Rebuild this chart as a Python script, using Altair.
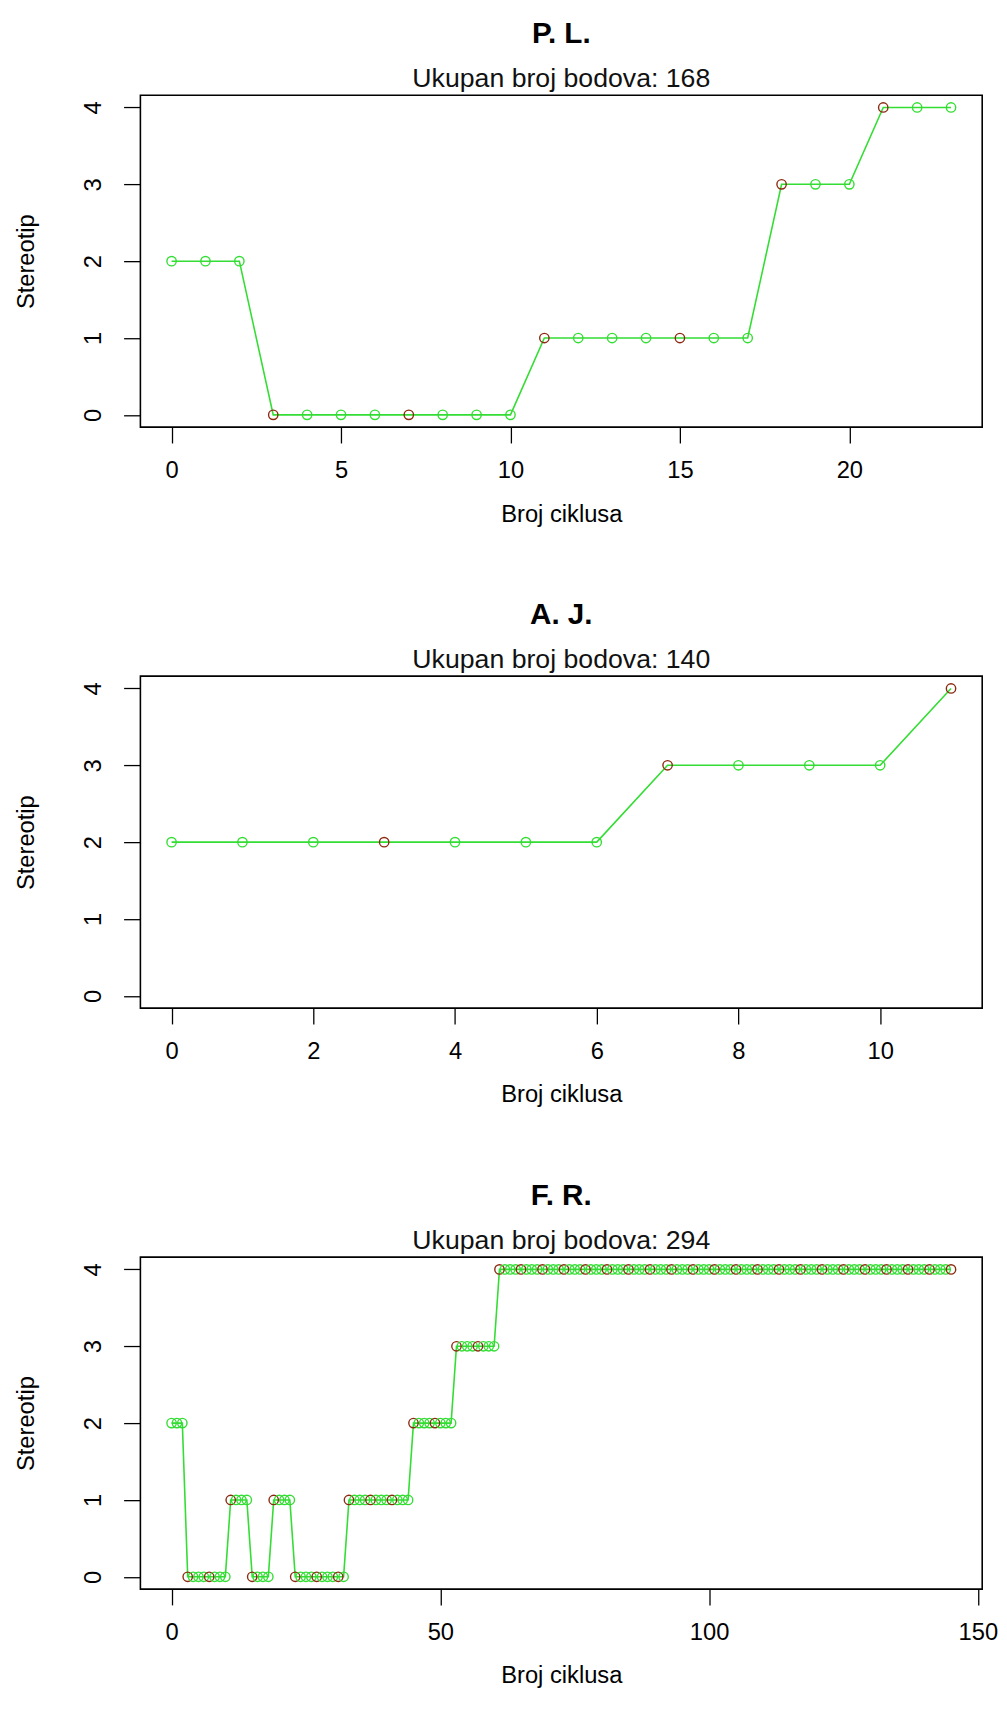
import altair as alt
import pandas as pd

# ---------------- data ----------------
panel_names = ["P. L.", "A. J.", "F. R."]
panel_scores = [168, 140, 294]

pl_values = [2, 2, 2, 0, 0, 0, 0, 0, 0, 0, 0, 1, 1, 1, 1, 1, 1, 1, 3, 3, 3, 4, 4, 4]
pl_red = [3, 7, 11, 15, 18, 21]

aj_values = [2, 2, 2, 2, 2, 2, 2, 3, 3, 3, 3, 4]
aj_red = [3, 7, 11]

fr_values = [
    2, 2, 2, 0, 0, 0, 0, 0, 0, 0, 0, 1, 1, 1, 1, 0, 0, 0, 0, 1,
    1, 1, 1, 0, 0, 0, 0, 0, 0, 0, 0, 0, 0, 1, 1, 1, 1, 1, 1, 1,
    1, 1, 1, 1, 1, 2, 2, 2, 2, 2, 2, 2, 2, 3, 3, 3, 3, 3, 3, 3,
    3, 4, 4, 4, 4, 4, 4, 4, 4, 4, 4, 4, 4, 4, 4, 4, 4, 4, 4, 4,
    4, 4, 4, 4, 4, 4, 4, 4, 4, 4, 4, 4, 4, 4, 4, 4, 4, 4, 4, 4,
    4, 4, 4, 4, 4, 4, 4, 4, 4, 4, 4, 4, 4, 4, 4, 4, 4, 4, 4, 4,
    4, 4, 4, 4, 4, 4, 4, 4, 4, 4, 4, 4, 4, 4, 4, 4, 4, 4, 4, 4,
    4, 4, 4, 4, 4, 4,
]
fr_red = [3, 7, 11, 15, 19, 23, 27, 31, 33, 37, 41, 45, 49, 53, 57, 61, 65, 69,
          73, 77, 81, 85, 89, 93, 97, 101, 105, 109, 113, 117, 121, 125, 129,
          133, 137, 141, 145]

x_tick_values = [[0, 5, 10, 15, 20], [0, 2, 4, 6, 8, 10], [0, 50, 100, 150]]
y_tick_values = [0, 1, 2, 3, 4]

GREEN = "#33dd33"
RED = "#8b2a10"
FONT = "Liberation Sans"

W, H = 852, 336


def panel(name, score, values, red, xticks):
    n = len(values) - 1
    df = pd.DataFrame({"cycle": list(range(len(values))), "stereotip": values})
    df["red"] = df["cycle"].isin(red)
    pad = 0.04 * n
    x = alt.X(
        "cycle:Q",
        scale=alt.Scale(domain=[-pad, n + pad], nice=False, zero=False),
        axis=alt.Axis(
            values=xticks, title="Broj ciklusa", grid=False, domain=False,
            tickSize=16, tickColor="black", tickWidth=1.3,
            labelFont=FONT, labelFontSize=24, labelColor="black", labelPadding=16,
            labelFlush=False, format="d",
            titleFont=FONT, titleFontSize=24, titleFontWeight="normal", titleColor="black",
            titleY=95, titleBaseline="alphabetic",
        ),
    )
    y = alt.Y(
        "stereotip:Q",
        scale=alt.Scale(domain=[-0.16, 4.16], nice=False, zero=False),
        axis=alt.Axis(
            values=y_tick_values, title="Stereotip", grid=False, domain=False,
            tickSize=17, tickColor="black", tickWidth=1.3,
            labelFont=FONT, labelFontSize=24, labelColor="black", labelPadding=18,
            labelAngle=270, labelAlign="center", labelBaseline="bottom", labelFlush=False,
            titleFont=FONT, titleFontSize=24, titleFontWeight="normal", titleColor="black",
            titleX=-115, titleY=H / 2, titleAngle=270, titleAlign="center",
            titleBaseline="middle",
        ),
    )
    base = alt.Chart(df)
    line = base.mark_line(color=GREEN, strokeWidth=1.6).encode(x=x, y=y)
    pts = base.mark_point(shape="circle", filled=False, size=90, strokeWidth=1.4, opacity=1).encode(
        x=x, y=y,
        color=alt.condition("datum.red", alt.value(RED), alt.value(GREEN)),
    )
    return alt.layer(line, pts).properties(
        width=W, height=H,
        title=alt.TitleParams(
            text=name, subtitle=f"Ukupan broj bodova: {score}",
            anchor="middle", frame="group", offset=3,
            font=FONT, fontSize=30, fontWeight="bold", color="black",
            subtitleFont=FONT, subtitleFontSize=27, subtitleColor="#111111",
            subtitlePadding=18,
        ),
    )


panels = [
    panel(panel_names[0], panel_scores[0], pl_values, pl_red, x_tick_values[0]),
    panel(panel_names[1], panel_scores[1], aj_values, aj_red, x_tick_values[1]),
    panel(panel_names[2], panel_scores[2], fr_values, fr_red, x_tick_values[2]),
]

chart = alt.vconcat(*panels, spacing=252, bounds="flush").properties(
    padding={"left": 6, "top": 0, "right": 0, "bottom": 0},
).configure(background="white").configure_view(stroke="black", strokeWidth=1.6)

chart.save("out.html", embed_options={"renderer": "svg", "actions": False})
